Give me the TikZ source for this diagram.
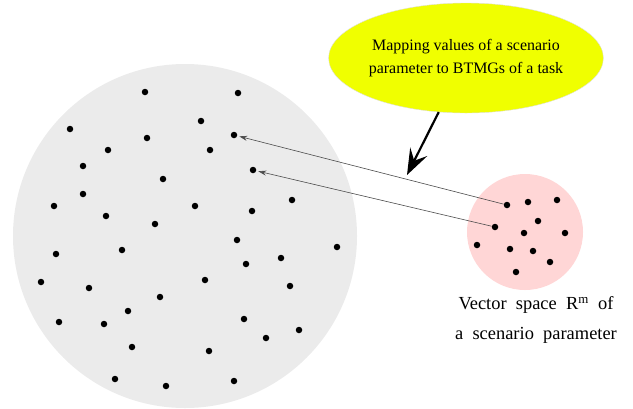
\documentclass[tikz,border=0pt]{standalone}
\usepackage{fontspec}
\setmainfont{Liberation Serif}
\usepackage{xcolor}
\usetikzlibrary{shapes,arrows,positioning,shapes.geometric,arrows.meta}

\definecolor{spacegray}{RGB}{235,235,235}
\definecolor{spacepink}{RGB}{255,214,214}
\definecolor{noteyellow}{RGB}{240,255,0}
\newcommand{\widespaces}{\spaceskip=0.5em\relax}

\begin{document}
\begin{tikzpicture}[x=1bp, y=-1bp,
			space/.style={circle, inner sep=0pt},
			dot/.style={circle, fill=black, inner sep=0pt, minimum size=6.5bp},
			note/.style={ellipse, fill=noteyellow, draw=gray!25, inner sep=0pt, minimum width=250bp, minimum height=110bp, align=center, font=\fontsize{16}{23}\selectfont},
			link/.style={-{Stealth[length=8bp, width=5bp]}, gray!60!black, line width=0.6bp, shorten >=2bp},
			pointer/.style={-{Stealth[length=26bp, width=19bp, inset=10bp]}, line width=2.2bp}]
			\useasboundingbox (0,0) rectangle (633,408);
			
			% the two spaces
			\node[space, fill=spacegray, minimum size=344bp] (gmspace) at (185,236) {};
			\node[space, fill=spacepink, minimum size=116bp] (rmspace) at (525,232) {};
			
			% points of the big space
			\foreach \px/\py [count=\i] in {145/92, 238/93, 201/121, 70/129, 147/138, 234/135, 108/150, 210/150,
				83/166, 253/170, 163/179, 83/194, 292/200, 54/206, 195/206, 252/211, 106/216, 155/224,
				237/240, 337/247, 56/254, 122/250, 246/264, 281/258, 41/282, 205/280, 290/286, 89/288,
				160/297, 128/311, 59/322, 104/324, 244/319, 299/330, 266/338, 132/347, 209/351,
				115/379, 166/386, 234/381}
				\node[dot] (g\i) at (\px,\py) {};
			
			% points of the small space
			\foreach \px/\py [count=\i] in {507/205, 528/202, 557/200, 495/227, 538/221, 524/233,
				565/233, 477/245, 510/249, 533/251, 550/262, 516/272}
				\node[dot] (r\i) at (\px,\py) {};
			
			\node[align=center, font=\fontsize{18.5}{30}\selectfont\widespaces] (caption) at (536,320)
				{Vector space R\textsuperscript{m} of\\a scenario parameter};
			
			\node[note] (mapping) at (466,58) {Mapping values of a scenario\\parameter to BTMGs of a task};
			
			\draw[link] (r1) -- (g6);
			\draw[link] (r4) -- (g10);
			
			\coordinate (hit) at (407,175);
			\draw[pointer] (mapping) -- (hit);
		\end{tikzpicture}
\end{document}
